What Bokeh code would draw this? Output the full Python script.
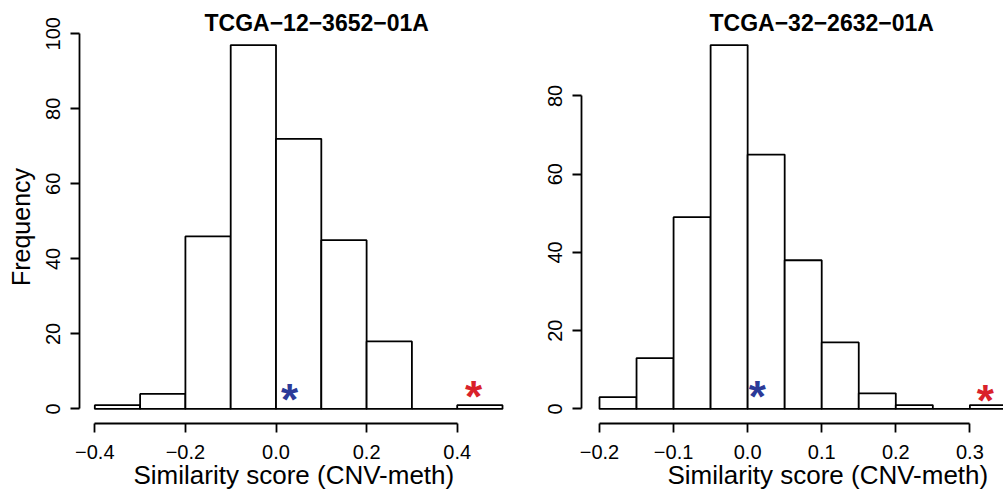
from bokeh.plotting import figure
from bokeh.layouts import row
from bokeh.models import FixedTicker, CustomJSTickFormatter, Title
from bokeh.core.properties import value
from bokeh.embed import file_html
from bokeh.resources import INLINE

# ---------------- data ----------------
left_title = "TCGA\u221212\u22123652\u221201A"
left_edges = [-0.4, -0.3, -0.2, -0.1, 0.0, 0.1, 0.2, 0.3, 0.4, 0.5]
left_counts = [1, 4, 46, 97, 72, 45, 18, 0, 1]
left_xticks = [-0.4, -0.2, 0.0, 0.2, 0.4]
left_yticks = [0, 20, 40, 60, 80, 100]
left_star_x = [0.030, 0.436]
left_star_y = [3.9, 4.7]

right_title = "TCGA\u221232\u22122632\u221201A"
right_edges = [-0.2, -0.15, -0.1, -0.05, 0.0, 0.05, 0.1, 0.15, 0.2, 0.25, 0.3, 0.35]
right_counts = [3, 13, 49, 93, 65, 38, 17, 4, 1, 0, 1]
right_xticks = [-0.2, -0.1, 0.0, 0.1, 0.2, 0.3]
right_yticks = [0, 20, 40, 60, 80]
right_star_x = [0.013, 0.321]
right_star_y = [4.5, 3.4]

star_colors = ["#2B3A98", "#D9222A"]
x_label = "Similarity score (CNV-meth)"
y_label = "Frequency"

FONT = "Liberation Sans"
LW = 1.8


def make_panel(width, height, border_left, border_right, border_top, border_bottom,
               xr, yr, edges, counts, xticks, yticks, star_x, star_y,
               title, title_offset, xlab_offset, show_ylab):
    p = figure(width=width, height=height, x_range=xr, y_range=yr,
               output_backend="svg", toolbar_location=None, title=None,
               min_border_left=border_left, min_border_right=border_right,
               min_border_top=border_top, min_border_bottom=border_bottom)
    p.outline_line_color = None
    p.xgrid.grid_line_color = None
    p.ygrid.grid_line_color = None
    p.background_fill_color = "white"
    p.border_fill_color = "white"

    p.quad(left=edges[:-1], right=edges[1:], bottom=[0] * len(counts), top=counts,
           fill_color="white", line_color="black", line_width=LW)

    p.text(x=star_x, y=star_y, text=["*"] * len(star_x), text_color=star_colors,
           text_font=value(FONT), text_font_style="bold", text_font_size="44px",
           text_align="center", text_baseline="middle", y_offset=5)

    for ax, ticks in ((p.xaxis[0], xticks), (p.yaxis[0], yticks)):
        ax.ticker = FixedTicker(ticks=ticks)
        ax.bounds = (ticks[0], ticks[-1])
        ax.axis_line_width = LW
        ax.axis_line_color = "black"
        ax.major_tick_line_width = LW
        ax.major_tick_line_color = "black"
        ax.major_tick_out = 9
        ax.major_tick_in = 0
        ax.minor_tick_line_color = None
        ax.major_label_text_font = FONT
        ax.major_label_text_font_size = "20px"
        ax.major_label_text_color = "black"
    p.xaxis[0].major_label_standoff = 12
    p.yaxis[0].major_label_standoff = 10
    p.xaxis[0].formatter = CustomJSTickFormatter(
        code="return tick.toFixed(1).replace('-', '\\u2212');")
    p.yaxis[0].formatter = CustomJSTickFormatter(code="return tick.toFixed(0);")
    p.yaxis[0].major_label_orientation = "vertical"

    if show_ylab:
        ya = p.yaxis[0]
        ya.axis_label = y_label
        ya.axis_label_text_font = FONT
        ya.axis_label_text_font_size = "25px"
        ya.axis_label_text_font_style = "normal"
        ya.axis_label_text_color = "black"
        ya.axis_label_standoff = 9

    p.add_layout(Title(text=title, align="left", offset=title_offset,
                       vertical_align="bottom", standoff=-10,
                       text_font=FONT, text_font_style="bold",
                       text_font_size="23px", text_color="black"), "above")
    p.add_layout(Title(text=x_label, align="left", offset=xlab_offset,
                       vertical_align="bottom", standoff=-8,
                       text_font=FONT, text_font_style="normal",
                       text_font_size="26px", text_color="black"), "below")
    return p


p1 = make_panel(521, 492, 79, 2, 30, 69,
                (-0.4338, 0.5375), (-3.88, 100.88),
                left_edges, left_counts, left_xticks, left_yticks,
                left_star_x, left_star_y,
                left_title, 125, 54, True)

p2 = make_panel(482, 492, 60, 0, 30, 68,
                (-0.2243, 0.3454), (-3.72, 96.72),
                right_edges, right_counts, right_xticks, right_yticks,
                right_star_x, right_star_y,
                right_title, 128, 86, False)

layout = row(p1, p2)
open("out.html", "w").write(file_html(layout, INLINE))
